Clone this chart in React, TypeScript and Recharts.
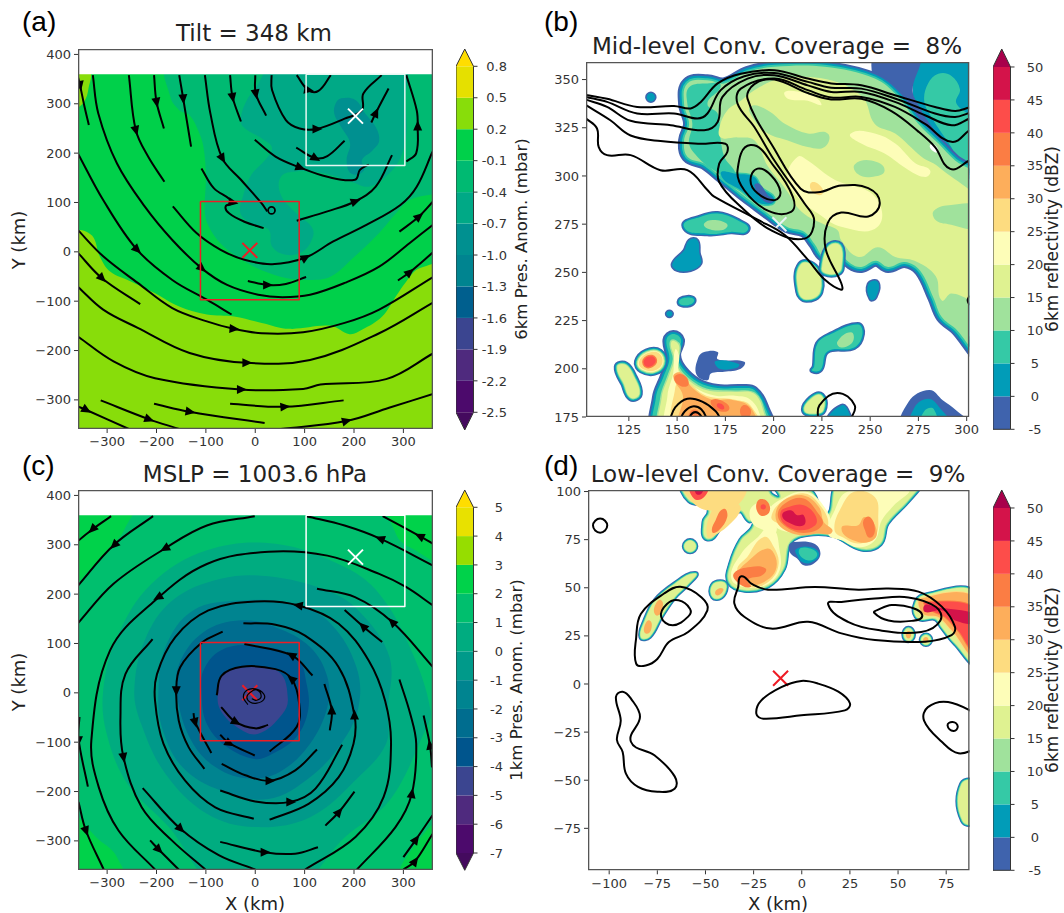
import React from 'react'
import { ScatterChart, Scatter, XAxis, YAxis } from 'recharts'

type P = [number, number]
type Arrow = [number, number, number]

const FONT = '"DejaVu Sans", sans-serif'

// colour levels
const presLevelsA = [-2.5, -2.2, -1.9, -1.6, -1.3, -1.0, -0.7, -0.4, -0.1, 0.2, 0.5, 0.8]
const presLevelsC = [-7, -6, -5, -4, -3, -2, -1, 0, 1, 2, 3, 4, 5]
const reflLevels = [-5, 0, 5, 10, 15, 20, 25, 30, 35, 40, 45, 50]
const presColors = ['#4c0a6c', '#4f2a7e', '#3b4590', '#00558d', '#006d8f', '#008490', '#009a8a', '#00ac80', '#00bf6e', '#00d24a', '#96dd00', '#e8e100']
const presColorsA = ['#4c0a6c', '#4f2a7e', '#3b4590', '#005f8e', '#008490', '#009090', '#00a986', '#00ba72', '#00d04a', '#88dd0a', '#e5e000']
const reflColors = ['#3f63ad', '#019cb8', '#35c9a6', '#a0e29c', '#dff291', '#fdfdb8', '#fddc80', '#fdae5b', '#fb7d44', '#fd4d4a', '#d4134a']
const [BLUE, CYAN, GREEN, LTGREEN, LIME, PALE, YEL, ORA, DORA, RED, CRIM] = reflColors

// axis ticks
const ticksXY = [-300, -200, -100, 0, 100, 200, 300]
const ticksYTop = [-300, -200, -100, 0, 100, 200, 300, 400]
const ticksBX = [125, 150, 175, 200, 225, 250, 275, 300]
const ticksBY = [175, 200, 225, 250, 275, 300, 325, 350]
const ticksDX = [-100, -75, -50, -25, 0, 25, 50, 75]
const ticksDY = [-75, -50, -25, 0, 25, 50, 75, 100]

// panel a, pressure anomaly regions (km)
const aLime: P[] = [[-400, 44], [-359, 44], [-343, 41], [-327, 28], [-315, -9], [-294, -40], [-252, -60], [-203, -84], [-154, -111], [-98, -127], [-43, -131], [13, -144], [69, -156], [153, -150], [191, -167], [216, -158], [257, -131], [285, -90], [306, -60], [334, -33], [400, -31], [420, -400], [-420, -400]]
const aLimeCorner: P[] = [[-380, 370], [-337, 370], [-338, 330], [-346, 305], [-360, 292], [-380, 290]]
const aTealGreen: P[] = [[-175, 380], [-172, 314], [-154, 287], [-133, 277], [-116, 247], [-105, 213], [-100, 152], [-102, 78], [-91, 45], [-64, 11], [-15, -23], [20, -40], [62, -53], [111, -57], [153, -50], [202, -9], [251, 38], [285, 78], [313, 105], [400, 142], [400, 400]]
const aTeal: P[] = [[34, 375], [3, 335], [-15, 311], [-29, 274], [-25, 254], [17, 227], [34, 210], [20, 186], [-8, 156], [-25, 112], [-30, 78], [-8, 58], [27, 45], [34, 11], [62, -6], [97, 1], [117, 31], [114, 51], [83, 78], [52, 115], [52, 152], [83, 163], [139, 159], [195, 142], [230, 132], [264, 152], [292, 186], [306, 240], [303, 308], [299, 375]]
const aDeep: P[] = [[163, 301], [174, 311], [202, 308], [223, 280], [244, 253], [251, 225], [237, 205], [216, 186], [220, 165], [195, 158], [185, 186], [192, 220], [174, 253], [160, 280]]
const noDataTop: P[] = [[-400, 360], [400, 360], [400, 430], [-400, 430]]

// panel a, streamlines (km)
const aStreams: P[][] = [
  [[-360, 358], [-355, 338], [-346, 295], [-337, 257]],
  [[-329, 358], [-318, 281], [-280, 179], [-224, 92], [-168, 24], [-109, -33], [-57, -67], [6, -87], [55, -92], [111, -87], [181, -63], [251, -30], [313, 18], [360, 55]],
  [[-360, 201], [-308, 105], [-240, 5], [-168, -57], [-98, -97], [-48, -127]],
  [[-256, 358], [-242, 247], [-217, 193], [-184, 142]],
  [[-205, 358], [-200, 304], [-185, 250]],
  [[-154, 358], [-146, 311], [-130, 213]],
  [[-102, 358], [-91, 281], [-67, 190], [-29, 146], [13, 98], [24, 82]],
  [[-51, 358], [-46, 314], [-29, 264]],
  [[0, 358], [1, 321], [22, 276]],
  [[33, 358], [34, 328], [62, 267], [90, 250], [124, 249], [181, 270], [216, 287], [219, 321], [256, 358]],
  [[84, 358], [107, 328], [128, 326], [153, 358]],
  [[270, 331], [244, 281], [235, 262]],
  [[306, 358], [327, 287], [329, 254], [326, 200], [306, 183]],
  [[-1, 227], [41, 193], [90, 171], [146, 152], [202, 146], [212, 166], [230, 177]],
  [[83, 211], [121, 190], [146, 194], [181, 225]],
  [[-109, 169], [-84, 129], [-46, 100], [-60, 92], [-53, 78], [-22, 61], [17, 48]],
  [[277, 196], [244, 132], [202, 102], [146, 82], [84, 63]],
  [[-167, 92], [-119, 38], [-70, 4], [-22, -16], [34, -25], [101, -12], [158, 21], [226, 55], [294, 95], [327, 132], [359, 203]],
  [[-360, -1], [-311, -53], [-233, -106]],
  [[-360, 45], [-308, -9], [-238, -63], [-168, -114], [-98, -141], [-44, -156], [13, -165], [97, -163], [181, -144], [251, -117], [360, -51]],
  [[-360, -70], [-308, -117], [-238, -154], [-133, -205], [-18, -225], [111, -219], [251, -165], [360, -103]],
  [[-360, -171], [-287, -222], [-203, -256], [-29, -279], [97, -278], [132, -269], [265, -258], [360, -206]],
  [[-360, -313], [-343, -320], [-256, -359]],
  [[-313, -301], [-216, -339], [-154, -359]],
  [[-205, -308], [-133, -324], [19, -347]],
  [[-51, -308], [59, -314], [179, -301]],
  [[52, -359], [184, -343], [271, -316], [360, -288]],
  [[292, 41], [331, 71], [360, 102]],
  [[289, -58], [312, -42], [360, -1]],
  [[-15, -59], [24, -67], [62, -65], [103, -51]],
]
const aEye: P[] = [[33, 91], [40, 84], [33, 77], [26, 84]]
const aArrows: Arrow[] = [[-355, 338, 80], [-242, 247, 75], [-200, 304, 80], [-146, 311, 85], [-46, 314, 80], [1, 321, 80], [-67, 190, 60], [107, 328, 10], [124, 249, 0], [244, 281, -65], [329, 254, -90], [90, 171, 20], [121, 190, 30], [-46, 100, 10], [202, 102, -20], [-240, 5, 45], [-109, -33, 40], [101, -12, -30], [24, -67, 0], [-311, -53, 45], [-44, -156, 5], [-18, -225, 0], [-29, -279, 0], [59, -314, -5], [-133, -324, 10], [-216, -339, 20], [-343, -320, 30], [184, -343, -15], [331, 71, -40], [312, -42, -40]]

// panel c, pressure anomaly regions (km)
const cCorners: P[][] = [
  [[-400, 400], [-248, 400], [-266, 329], [-294, 295], [-329, 255], [-400, 205]],
  [[272, 400], [285, 322], [313, 295], [400, 268], [400, 400]],
  [[-400, -240], [-315, -299], [-280, -333], [-266, -400], [-400, -400]],
  [[400, -260], [320, -313], [296, -400], [400, -400]],
]
const cRings: P[][] = [
  [[-308, 5], [-280, 113], [-210, 221], [-98, 289], [41, 302], [181, 255], [251, 201], [313, 93], [355, -36], [341, -83], [272, -218], [181, -293], [76, -400], [-70, -400], [-175, -272], [-259, -184], [-301, -83]],
  [[-245, 5], [-224, 106], [-168, 187], [-70, 231], [27, 236], [146, 207], [209, 167], [272, 72], [268, -36], [265, -103], [209, -171], [111, -252], [-1, -272], [-98, -245], [-182, -164], [-231, -63]],
  [[-196, 5], [-182, 93], [-126, 167], [-29, 187], [83, 180], [153, 140], [205, 52], [209, -29], [174, -103], [111, -171], [27, -215], [-70, -198], [-147, -151], [-189, -70]],
  [[-158, -9], [-154, 59], [-105, 123], [-29, 147], [41, 133], [111, 93], [146, 32], [146, -29], [111, -103], [55, -157], [-1, -174], [-70, -157], [-126, -103]],
  [[-109, -2], [-105, 45], [-70, 86], [-8, 96], [83, 72], [104, 18], [107, -36], [83, -90], [34, -124], [-1, -134], [-57, -110], [-98, -63]],
  [[-76, -2], [-64, 39], [-15, 52], [48, 42], [66, -12], [55, -43], [6, -83], [-36, -70], [-70, -36]],
]

// panel c, streamlines (km)
const cStreams: P[][] = [
  [[-360, 307], [-329, 332], [-292, 358]],
  [[-360, 216], [-287, 299], [-207, 358]],
  [[-360, 140], [-287, 221], [-182, 293], [-98, 339], [-1, 358]],
  [[-203, -358], [-277, -279], [-317, -191], [-332, -97], [-294, 86], [-203, 187], [-98, 261], [27, 286], [146, 278], [251, 241], [306, 214], [360, 177]],
  [[-208, 109], [-263, 38], [-273, -49], [-267, -130], [-230, -232], [-169, -299], [-101, -358]],
  [[-228, -193], [-152, -275], [-74, -329], [0, -358]],
  [[-213, -299], [-196, -317], [-155, -358]],
  [[-356, -49], [-358, -93], [-339, -190]],
  [[-358, -221], [-343, -279], [-307, -358]],
  [[-66, 124], [-108, 102], [-152, 52], [-160, 5], [-155, -56], [-135, -110], [-103, -154]],
  [[-3, -255], [-81, -232], [-142, -178], [-186, -103], [-203, -16], [-199, 38], [-162, 113], [-95, 167], [0, 185], [88, 177], [169, 140], [230, 65], [263, -16], [275, -103], [260, -211], [203, -292], [101, -358]],
  [[-24, 141], [41, 138], [101, 116], [169, 52], [201, -46], [199, -103], [169, -171], [108, -225], [29, -257]],
  [[-71, -198], [0, -220], [71, -221], [122, -194], [176, -105]],
  [[-68, -144], [-20, -167], [29, -178], [81, -157], [125, -115]],
  [[-22, 99], [74, 76], [116, 35]],
  [[140, 18], [155, -36], [151, -76]],
  [[292, 27], [314, -43], [326, -103], [317, -205], [284, -272], [206, -358]],
  [[341, -46], [354, -107], [358, -151]],
  [[142, -269], [169, -242], [201, -200]],
  [[300, -333], [325, -298], [359, -248]],
  [[300, -358], [323, -342], [359, -286]],
  [[-71, -302], [19, -323], [81, -326], [127, -313]],
  [[181, 168], [219, 134], [257, 103]],
  [[104, 358], [181, 339], [254, 312], [360, 258]],
  [[125, 211], [202, 194], [278, 143], [360, 52]],
  [[258, 358], [334, 317], [360, 302]],
  [[-78, -5], [-68, 35], [-27, 53], [41, 48], [74, 28], [89, -22], [84, -69], [29, -119]],
  [[-125, -41], [-122, -59], [-89, -122]],
  [[-71, -85], [-53, -102], [-1, -127]],
  [[-69, -29], [-40, -59], [0, -72], [26, -65]],
  [[-15, -24], [-24, -9], [-17, 5], [0, 8], [17, -2], [17, -14], [3, -21], [-10, -19], [-17, -9], [-10, 1], [3, 6], [12, -7], [3, -15], [-7, -12]],
]
const cArrows: Arrow[] = [[-329, 332, 135], [-285, 300, 135], [-182, 293, 150], [-196, 194, 150], [88, 177, 190], [254, 312, 200], [334, 317, 205], [278, 143, 225], [219, 134, 225], [-160, 5, 90], [74, 76, 210], [74, 28, 220], [-122, -59, 75], [-53, -102, 30], [-40, -59, 30], [29, -178, 0], [71, -221, 0], [19, -323, 0], [-152, -275, 45], [-196, -317, 45], [-343, -279, 70], [-267, -130, 80], [-358, -96, 90], [155, -36, -90], [201, -46, -90], [169, -242, -50], [317, -205, -80], [354, -107, -100], [325, -298, -55], [323, -342, -55]]

// storm boxes and centres
const whiteBox: P[] = [[103, 360], [103, 175], [303, 175], [303, 360], [103, 360]]
const redBox: P[] = [[-111, 102], [89, 102], [89, -97], [-111, -97], [-111, 102]]
const redCentreA: P[] = [[-11, 3]]
const redCentreC: P[] = [[-11, 0]]
const whiteCentre: P[] = [[203, 275]]

// panel b, reflectivity regions (km)
const bBlue: P[] = [[254, 366], [275, 366], [272, 344], [276.6, 334], [286, 312], [261, 332], [252.4, 346]]
const bCyan: P[] = [[275, 366], [310, 366], [310, 296], [292, 309], [286, 318], [275, 334], [272, 344.5]]
const bUpperGreen: P[] = [[280, 348], [285.3, 353], [292, 352], [296.5, 345], [294.7, 337.6], [306, 327], [306, 308], [297, 306.4], [292, 315], [281.7, 330.6], [278, 339]]
const bHole: P[] = [[281, 316], [283.6, 316], [285, 312.5], [282, 313.4]]
const bMain: P[] = [[155.3, 348], [165.7, 349.7], [174.4, 348], [186.5, 354], [200.4, 356.6], [226.4, 356.6], [252.4, 350.5], [264.5, 341], [275, 327], [285.4, 316.8], [294, 308], [310, 296], [310, 206], [294, 221], [287, 227], [282.7, 237], [275.8, 251], [268, 255.4], [259.3, 252.8], [253, 256], [245.4, 252.8], [240, 254.5], [235, 259.7], [231.6, 266.7], [229, 262], [226.4, 258], [221, 265], [216, 271], [207, 273.5], [197, 280.5], [190, 285.7], [183, 291], [172.6, 299.5], [164, 306.4], [155.3, 310], [153.6, 318.5], [156.2, 327], [153.6, 337.5]]
const bLeftGreen: P[] = [[156.2, 346], [165.7, 348], [172.6, 347], [165.7, 337.5], [171, 332.4], [172.6, 318.5], [174.4, 310], [179.6, 299.5], [169, 303], [160.5, 310], [156.2, 316.8], [157.9, 327], [155.3, 337.5]]
const bLime: P[] = [[176, 334], [183, 339], [190, 344.5], [204, 350.5], [228, 350], [246, 341], [252.4, 327], [263, 322], [276.6, 310], [285, 305], [310, 281], [310, 236], [292, 239], [287, 235.5], [284, 248], [273, 256], [263, 258], [254, 263], [244, 258], [235, 266.7], [233, 272], [226, 275], [217.7, 279], [212, 284], [209, 289], [205.6, 294], [197, 305], [190, 318.5], [181.3, 320], [172.6, 320], [172, 325.5]]
const bLtPatches: P[][] = [
  [[188, 336], [197, 334], [206, 327], [217.7, 322], [228, 322], [226.4, 315], [217.7, 315], [207, 318.5], [197, 322], [190, 329]],
  [[242, 306], [250.6, 308], [257.5, 303], [250.6, 299.5], [243.6, 301]],
  [[283, 282], [292, 285], [306, 284], [306, 273.6], [290.5, 275], [284, 277]],
]
const bPale: P[][] = [
  [[205.6, 342], [216, 343], [224.7, 337.5], [217.7, 339]],
  [[240, 322], [252.4, 322], [263, 316.8], [273.6, 306.4], [281, 303], [278.7, 299.5], [270, 303], [257.5, 311.6], [245.4, 316.8]],
  [[212.5, 310], [217.7, 308], [231.6, 298], [252.4, 289.4], [253.9, 273.6], [235, 273.6], [223, 280.5], [212.5, 289], [207, 299.5]],
]
const bOrangeSpot: P[] = [[219, 296], [223, 296], [225.5, 291], [221, 291]]
const bCoreCyan: P[] = [[172.6, 301], [181.3, 301], [190, 299.5], [193.4, 294], [200.4, 287.4], [193.4, 285.7], [183, 292.6]]
const bCoreBlue: P[] = [[190, 295], [192.6, 296], [197, 290], [200, 287], [195, 287]]

// small cells of panel b
const bCellsGreen: P[][] = [
  [[153.6, 273.6], [162.3, 278.8], [171, 280.5], [181.3, 277], [186.6, 272], [177.8, 271], [165.7, 270]],
  [[151, 234.7], [155.3, 237], [158.8, 235.5], [155.3, 233]],
  [[221, 201], [222.7, 213], [229.7, 218], [243.6, 223], [246, 218], [241.7, 211], [227.8, 209], [224.4, 199.6], [220, 199]],
]
const bCellsLt: P[][] = [
  [[164, 275.3], [171, 277], [176, 273.6], [168, 272]],
  [[233, 214], [240, 219], [241, 214], [235, 211]],
]
const bDots: P[][] = [
  [[136.4, 343], [138.6, 340.8], [136.4, 338.6], [134.2, 340.8]],
  [[146, 230], [147.6, 228.5], [146, 227], [144.4, 228.5]],
  [[147.5, 254.5], [153.6, 261.4], [156.2, 266.7], [160.5, 266.7], [161.5, 260], [162.3, 254.5], [157, 251], [150, 251]],
  [[228, 170], [235, 181], [240, 175], [240, 170]],
  [[249, 244], [254, 245], [253, 237], [250, 236]],
]
const bFingers: P[][] = [
  [[214, 254], [222, 252], [224, 240], [217, 236], [213, 240]],
  [[225, 252], [232, 265], [235, 252], [230, 249]],
  [[216, 178.5], [219.5, 184.5], [224.7, 186], [225.6, 178.5], [221, 176.8]],
  [[119, 201], [123.4, 202], [127.7, 195.7], [130.4, 187], [126, 185], [122.5, 192]],
]
const bSouthBlue: P[] = [[267, 168], [270, 183], [280.6, 189], [287.6, 183.7], [294.5, 178.5], [304, 168]]
const bSouthCyan: P[] = [[271.5, 168], [273, 180], [280, 184.5], [285.5, 180.5], [292, 168]]
const bSouthGreen: P[] = [[276, 168], [278, 178], [283, 179], [284, 168]]
const bStrip: P[] = [[164, 208.7], [171, 208.7], [171, 205], [184.8, 203.6], [183, 200], [174.4, 198.4], [167.5, 197.5], [165.7, 194], [160, 197], [161, 206]]
const bStripCyan: P[] = [[170, 204], [182, 202.5], [181, 200.5], [172, 200]]
const bHotGreen: P[] = [[140, 168], [139, 185], [143, 196], [146, 205], [144.5, 215], [148, 218], [152, 215], [150, 207], [153, 200], [161, 193], [171, 190], [183, 190], [190, 189], [196, 179], [198, 168]]
const bHotLime: P[] = [[143, 168], [142, 185], [146, 197], [148.5, 205], [147, 214], [151, 212], [150, 202], [155, 195], [165, 189], [180, 188], [190, 187], [195, 177], [196, 168]]
const bHotPale: P[] = [[146, 168], [145, 186], [148, 198], [149, 210], [151, 207], [151, 198], [158, 191], [170, 186], [180, 186], [188, 184], [193, 176], [193, 168]]
const bHotYel: P[] = [[150, 168], [149, 190], [153, 194], [165, 186], [180, 184], [188, 181], [192, 168]]
const bHotOra: P[] = [[152, 168], [153, 186], [148, 196], [152, 198], [158, 190], [168, 184], [178, 184], [188, 180], [190, 168]]
const bHotRed: P[][] = [
  [[148.5, 195.5], [153, 197], [156, 192], [152, 191]],
  [[168, 184], [174, 183], [177, 179], [172, 178], [168, 181]],
  [[184, 181], [188, 179], [187, 175], [183, 176]],
  [[155, 168], [157, 178], [161, 178], [163, 168]],
]
const bHotCrim: P[] = [[171, 182], [174, 181], [174, 179], [171, 180]]
const bNorthCell: P[] = [[130.2, 203.5], [134.5, 208], [140.6, 208], [142.3, 202.7], [138, 199], [132, 200]]
const bNorthCore: P[] = [[132.8, 204.4], [137, 206.5], [138.8, 203.5], [134.5, 201]]

// panel b, contour lines (km)
const bLines: P[][] = [
  [[102.8, 342], [113.7, 340], [129.3, 335.8], [148.4, 336.3], [157, 335], [162.3, 338.4], [171, 348], [183, 353], [200.4, 354.8], [217.7, 350.5], [229.8, 348], [245.4, 347], [262.8, 341.9], [283.6, 335.8], [294, 333.7], [301.4, 335.5]],
  [[102.8, 341], [113.7, 338.4], [129.3, 332.4], [148.4, 332.4], [160.5, 329.8], [165.7, 332.4], [172.6, 344.5], [184.8, 351.7], [200.4, 353.4], [217.7, 348.8], [229.8, 345.8], [245.4, 345.3], [262.8, 340.2], [283.6, 332.4], [294, 330.6], [301.4, 332.7]],
  [[102.8, 339.6], [113.7, 335.8], [125.9, 328.6], [146.7, 326.3], [164, 323.7], [171, 328], [173.5, 341], [186.5, 350.5], [200.4, 352.2], [217.7, 347], [229.8, 343.6], [245.4, 343.6], [262.8, 338.4], [278.4, 331.5], [292.3, 326.3], [301.4, 329.8]],
  [[102.8, 336.7], [115.4, 328.9], [125.9, 321], [141.4, 318.1], [162.3, 316.7], [175, 316.7], [176, 312.4], [171.8, 306.4], [171.8, 296.9], [183, 284], [198.6, 271.9], [216, 267.5], [221, 277], [216, 285.7], [200.4, 308], [190, 325.4], [181.3, 337.5], [183, 345.3], [200.4, 350.5], [217.7, 344.5], [229.8, 340.7], [245.4, 341], [262.8, 335.8], [278.4, 327], [292.2, 317.7], [301.4, 323.7]],
  [[102.8, 329.8], [108.5, 324.6], [109.4, 315], [113.7, 310.8], [125.9, 310.8], [141.4, 303], [155.3, 303], [165.7, 292.7], [169, 289.4], [191.7, 277.3], [205.6, 269.5], [217.7, 256.6], [226.4, 246.3], [235, 241], [235, 244.5], [227, 262], [228, 275.6], [235, 281], [249, 279], [255, 286], [249, 293.7], [235, 295], [223, 291.5], [214, 293.4], [200.4, 314], [186.5, 340], [190, 347.6], [200.4, 350], [217.7, 343], [229.8, 339.7], [245.4, 340], [261, 333.6], [275, 323], [283.6, 315], [291.5, 303.7], [301.4, 308]],
  [[146, 173], [149, 180], [155.3, 184.5], [163, 183], [170, 178], [173, 173]],
  [[151, 173], [154, 178], [158, 180.5], [162.5, 179], [166, 173]],
  [[155.5, 173], [158, 177], [161, 177], [164, 173]],
  [[223, 173], [223.7, 181], [233, 187.5], [242, 181], [239.5, 173]],
  [[301.5, 238], [300.5, 235.5], [301.5, 233]],
]
const bLoops: P[][] = [
  [[188, 316], [181.3, 303], [184.8, 292.6], [197, 282], [209, 281.4], [210, 289], [200.4, 304.7]],
  [[191.7, 303.8], [188, 297.8], [191.7, 291], [200.4, 287.4], [203.5, 291.7], [198.6, 300.4]],
]

// panel d, reflectivity regions (km)
const dMain: P[] = [[-61, 104], [-58.3, 95.5], [-48.8, 92.9], [-48, 88.6], [-50.5, 84.2], [-48.8, 75.6], [-41.8, 82.5], [-32.3, 90.3], [-27, 85], [-24.5, 86.8], [-25.4, 80.8], [-31.4, 74.7], [-36.6, 62.6], [-37.5, 53], [-29.7, 49], [-17.5, 51.3], [-9.7, 60], [-6.3, 73.8], [3.3, 78], [17, 77.3], [31, 70.4], [40.6, 73], [44, 83.4], [53.6, 93.8], [59.7, 100.7], [62.3, 104], [20, 104], [12.4, 86.8], [4.6, 99.8], [-13.6, 104], [-11, 97], [-16, 98], [-20, 104]]
const dPaleLobes: P[][] = [
  [[-36.6, 54.8], [-31.4, 67.8], [-22.7, 76.4], [-15.8, 81.6], [-11.5, 69.5], [-11.5, 59], [-17.5, 52], [-28, 50]],
  [[13.7, 78], [17, 90], [24, 100], [55, 101], [48, 93], [41.5, 85], [38, 74.7], [29.3, 71], [20.6, 74.7]],
  [[-26, 92], [-18, 94], [-14, 86], [-14, 78], [-20, 80], [-26, 84]],
  [[-17, 90], [-10.6, 96], [2, 100], [11, 93], [15, 82], [8, 78.5], [-4, 78.5], [-14, 82]],
]
const dYelLobes: P[][] = [
  [[-33.5, 59], [-28.3, 66], [-19.7, 76.4], [-14.5, 71.2], [-12, 62.6], [-16.2, 54], [-26.6, 50.4]],
  [[17, 80], [20.6, 92], [27.6, 100], [38, 97], [39.7, 87], [38, 76.4], [29.3, 73], [22.4, 75.6]],
  [[-49, 76.4], [-47.4, 88.6], [-42.2, 93.8], [-33.5, 93.8], [-31.8, 90.3], [-37, 83.4], [-43.9, 78]],
  [[-61.2, 104], [-30, 104], [-33.5, 92.9], [-49, 90.3], [-57.7, 95.5]],
  [[-15.8, 86.8], [-10.6, 94.6], [1.5, 99], [10.2, 92], [13.7, 82.5], [8.5, 80], [-3.6, 80], [-12.3, 83.4]],
]
const dOraLobes: P[][] = [
  [[-33.5, 57.4], [-28.3, 63.4], [-18, 70.4], [-13.6, 66], [-13.6, 59], [-18, 54], [-24.9, 51.3], [-31.8, 54]],
  [[20.6, 80.8], [29.3, 82.5], [32.8, 86.8], [38, 82.5], [38, 75.6], [29.3, 73.8]],
  [[-13.6, 88.6], [-9.3, 95.5], [1, 98], [8.9, 92], [11.4, 84.2], [15.8, 79], [8, 78.2], [-0.7, 77.3], [-11, 81.6]],
]
const dDoraLobes: P[][] = [
  [[-35.3, 57.4], [-26.6, 60.8], [-18.8, 60], [-20.6, 56.5], [-28.3, 54], [-26.6, 50.4], [-32.7, 52.2]],
  [[32, 85], [35.4, 86.8], [38, 80], [35.4, 76], [32.8, 80]],
  [[-12.4, 88.6], [-7.6, 94.6], [1, 96.4], [8, 89.4], [10.6, 82.5], [1, 78.5], [-9.3, 82.5]],
  [[-46.5, 79], [-44.8, 85], [-40.5, 91], [-38.7, 86.8], [-43, 79.9]],
  [[-23, 95], [-18, 95], [-17, 89], [-22, 88]],
]
const dRedLobes: P[][] = [
  [[-11, 89.4], [-6.7, 92], [1, 92.9], [7, 87.7], [7, 82.5], [-1.5, 79.9], [-9.3, 83.4]],
  [[-57.7, 104], [-49, 104], [-50.8, 97], [-56, 96.4]],
  [[-21, 93], [-19, 93], [-19, 91], [-21, 91]],
]
const dCrimLobes: P[][] = [
  [[-10.2, 87.7], [-5.8, 90.3], [-2.4, 87.7], [1, 87.7], [1, 82.5], [-5.8, 83.4]],
  [[-55, 104], [-51, 104], [-52, 99], [-55, 99]],
]
const dCellBlue: P[] = [[-6.7, 72], [-4.1, 73.8], [6.3, 73], [9.7, 67.8], [6.3, 62.6], [1, 61.7], [-2.4, 65.2], [-5.8, 67.8]]
const dCellCyan: P[] = [[-3, 70], [5, 71], [9, 67], [4, 62.8], [0, 63.5], [-2, 66]]
const dCellGreen: P[] = [[-1.5, 69.5], [4.5, 70.4], [8, 66.9], [2.8, 64.3]]
const dSmallLime: P[][] = [
  [[-58, 74.5], [-55, 71.6], [-58, 68.7], [-61, 71.6]],
  [[-46.4, 51.3], [-41, 53], [-39.2, 50.4], [-41.8, 45.2], [-46.2, 45.2]],
  [[-83.5, 24.4], [-81.4, 33], [-76, 43.5], [-66, 52], [-55.4, 57.4], [-59, 52], [-66, 45.2], [-73, 35], [-79, 24.7]],
  [[55.4, 29], [58, 25.6], [55.4, 22.5], [53, 25.6]],
  [[64.5, 25.5], [67, 23], [64.5, 20.5], [62, 23]],
  [[83, -52], [92, -52], [92, -71], [83.5, -71]],
]
const dSmallOra: P[][] = [
  [[-44.5, 48.7], [-41, 49.6], [-41.8, 47], [-44.5, 46.2]],
  [[-76.5, 40], [-73, 43.5], [-73, 37.4], [-75.7, 35.7]],
  [[-81.8, 29.6], [-79, 33], [-78.3, 27.9], [-81, 26.2]],
  [[55.4, 27.5], [56.8, 25.6], [55.4, 23.6], [54, 25.6]],
  [[64.5, 24.4], [65.8, 23], [64.5, 21.6], [63, 23]],
]
const dEastOuter: P[] = [[58.5, 40], [63.2, 46], [92, 46], [92, 11], [79.7, 21], [72.7, 29.6], [69.3, 34], [60.6, 34]]
const dEastOra: P[] = [[62, 44.4], [92, 43.5], [92, 15], [77.8, 28], [71, 34.8], [63, 36.6]]
const dEastRed: P[] = [[64, 42.6], [92, 38], [92, 17], [81, 28], [74.5, 34.8], [67.5, 38.3]]
const dEastCrim: P[] = [[64, 41], [69.3, 40], [92, 36], [92, 31.4], [79.7, 33], [72.7, 38.3], [64, 37.4]]

// panel d, contour lines (km)
const dLoops: P[][] = [
  [[-104.7, 86], [-101, 82.3], [-104.7, 78.6], [-108.4, 82.3]],
  [[-86, 10.6], [-81, 9.6], [-75, 13], [-69, 21.8], [-59, 27], [-49, 38.3], [-52, 45], [-63, 50.5], [-71.5, 47], [-83.5, 36.5], [-86, 24]],
  [[-73, 35], [-67, 30.5], [-59, 35], [-58, 39], [-64, 43.5], [-70, 41.6]],
  [[-31.4, 56], [-33, 50.4], [-35, 41.8], [-29.7, 34.8], [-16, 28.8], [3.3, 32.3], [20.6, 26.3], [38, 22.8], [64, 22], [77.8, 25.4], [79.5, 29.8], [72.7, 40.2], [60.6, 48], [45, 49.6], [29.4, 49], [6.8, 50.4], [-17.5, 49], [-26, 52]],
  [[13.7, 41.4], [24, 32.3], [39.7, 28], [62, 27], [72, 33], [69.7, 40], [55.4, 45], [38, 44.4], [20.6, 42.6]],
  [[37.6, 37], [45, 33], [57, 32.8], [62.6, 35.4], [57, 39.7], [46.7, 41], [39.7, 38.6]],
  [[-23.6, -15.4], [-20, -18], [-0.2, -16.3], [22.4, -13.7], [25, -10], [19, -4], [8.5, 0.2], [-0.2, 1.6], [-10.6, -1.6], [-21, -8.5]],
  [[-96.5, -6.7], [-93, -4], [-88.7, -7.6], [-84, -17], [-88.7, -30], [-76.5, -37], [-66, -48], [-66, -54.4], [-75, -56], [-85, -53.5], [-91.3, -46.6], [-93, -35.3], [-96, -29], [-94, -19]],
  [[75.7, -21.5], [78.8, -24.4], [81, -22], [78.3, -19.7]],
]
const dLines: P[][] = [
  [[92, -16], [76, -9.4], [65.5, -12], [63.5, -19], [72.7, -30], [81.4, -36], [92, -33]],
]
const dCentre: P[] = [[-11, 3]]

const toData = (pts: P[]) => pts.map(([x, y]) => ({ x, y }))
const NoDot = () => <g />
const fmtTick = (v: number) => String(v).replace('-', '\u2212')
const tickStyle = { fontSize: 13, fill: '#333', fontFamily: FONT }

// d3-style curve factory: smooth spline through the points, handles scaled to the segment length
const spline = (closed: boolean) => (ctx: any) => {
  let pts: P[] = []
  const handle = 0.36
  const unit = (a: P, b: P): P => {
    const dx = b[0] - a[0]
    const dy = b[1] - a[1]
    const len = Math.hypot(dx, dy) || 1
    return [dx / len, dy / len]
  }
  return {
    areaStart() {},
    areaEnd() {},
    lineStart() {
      pts = []
    },
    point(x: number, y: number) {
      pts.push([+x, +y])
    },
    lineEnd() {
      const n = pts.length
      if (!n) return
      const at = (i: number) => (closed ? pts[(i + n) % n] : pts[Math.max(0, Math.min(n - 1, i))])
      ctx.moveTo(pts[0][0], pts[0][1])
      const segs = closed ? n : n - 1
      for (let i = 0; i < segs; i++) {
        const [p0, p1, p2, p3] = [at(i - 1), at(i), at(i + 1), at(i + 2)]
        const len = Math.hypot(p2[0] - p1[0], p2[1] - p1[1]) * handle
        const t1 = unit(p0, p2)
        const t2 = unit(p1, p3)
        ctx.bezierCurveTo(p1[0] + t1[0] * len, p1[1] + t1[1] * len, p2[0] - t2[0] * len, p2[1] - t2[1] * len, p2[0], p2[1])
      }
      if (closed) ctx.closePath()
    },
  }
}
const closedSpline = spline(true)
const openSpline = spline(false)

function ArrowHead(props: any) {
  const { cx, cy, payload } = props
  return <polygon points={`${cx + 6},${cy} ${cx - 4},${cy - 4.5} ${cx - 4},${cy + 4.5}`} fill="#000" transform={`rotate(${payload.angle} ${cx} ${cy})`} />
}

const crossShape = (color: string, half: number) => (props: any) => {
  const { cx, cy } = props
  return <path d={`M${cx - half},${cy - half}L${cx + half},${cy + half}M${cx - half},${cy + half}L${cx + half},${cy - half}`} stroke={color} strokeWidth={2} fill="none" />
}

function area(key: string, pts: P[], fill: string, bands: [string, number][] = [], joint: any = closedSpline) {
  const data = toData(pts)
  return [
    ...bands.map(([c, w], i) => (
      <Scatter key={`${key}-${i}`} data={data} shape={NoDot} lineType="joint" lineJointType={joint} isAnimationActive={false}
        line={{ stroke: c, strokeWidth: w, fill: c, strokeLinejoin: 'round' } as any} />
    )),
    <Scatter key={key} data={data} shape={NoDot} lineType="joint" lineJointType={joint} isAnimationActive={false}
      line={{ stroke: 'none', fill } as any} />,
  ]
}

function curve(key: string, pts: P[], color = '#000', width = 2, joint: any = openSpline) {
  return (
    <Scatter key={key} data={toData(pts)} shape={NoDot} lineType="joint" lineJointType={joint} isAnimationActive={false}
      line={{ stroke: color, strokeWidth: width, fill: 'none', strokeLinejoin: 'round' } as any} />
  )
}

const arrowSeries = (key: string, arrows: Arrow[]) => (
  <Scatter key={key} data={arrows.map(([x, y, angle]) => ({ x, y, angle }))} shape={ArrowHead} isAnimationActive={false} />
)
const crossSeries = (key: string, pts: P[], color: string, half = 7.5) => (
  <Scatter key={key} data={toData(pts)} shape={crossShape(color, half)} isAnimationActive={false} />
)

interface PanelProps {
  left: number
  top: number
  width: number
  height: number
  xDomain: [number, number]
  yDomain: [number, number]
  xTicks: number[]
  yTicks: number[]
  children: React.ReactNode
}

function Panel({ left, top, width, height, xDomain, yDomain, xTicks, yTicks, children }: PanelProps) {
  const frame: P[] = [[xDomain[0], yDomain[0]], [xDomain[1], yDomain[0]], [xDomain[1], yDomain[1]], [xDomain[0], yDomain[1]], [xDomain[0], yDomain[0]]]
  return (
    <div style={{ position: 'absolute', left: left - 60, top: top - 8 }}>
      <ScatterChart width={width + 80} height={height + 38} margin={{ top: 8, right: 20, left: 0, bottom: 0 }}>
        <XAxis type="number" dataKey="x" domain={xDomain} ticks={xTicks} allowDataOverflow interval={0} height={30}
          tick={tickStyle} tickLine={{ stroke: '#333' }} axisLine={false} tickSize={4} tickMargin={4} tickFormatter={fmtTick} />
        <YAxis type="number" dataKey="y" domain={yDomain} ticks={yTicks} allowDataOverflow interval={0} width={60}
          tick={tickStyle} tickLine={{ stroke: '#333' }} axisLine={false} tickSize={4} tickMargin={3} tickFormatter={fmtTick} />
        {children}
        {curve('frame', frame, '#555', 2.6, 'linear')}
      </ScatterChart>
    </div>
  )
}

interface ColorbarProps {
  left: number
  top: number
  height: number
  domain: [number, number]
  levels: number[]
  colors: string[]
  topTip: string
  bottomTip?: string
  labelDx: number
  anchor: 'end' | 'middle'
  decimals: number
}

function Colorbar({ left, top, height, domain, levels, colors, topTip, bottomTip, labelDx, anchor, decimals }: ColorbarProps) {
  const lo = levels[0]
  const hi = levels[levels.length - 1]
  const outline: P[] = [[0, lo], ...(bottomTip ? ([[0.5, domain[0]], [1, lo]] as P[]) : ([[1, lo]] as P[])), [1, hi], [0.5, domain[1]], [0, hi], [0, lo]]
  const tick = (p: any) => (
    <text x={p.x + labelDx} y={p.y} dy="0.36em" textAnchor={anchor} fontSize={13} fill="#333" fontFamily={FONT}>
      {p.payload.value.toFixed(decimals)}
    </text>
  )
  return (
    <div style={{ position: 'absolute', left, top: top - 12 }}>
      <ScatterChart width={70} height={height + 24} margin={{ top: 12, right: 0, left: 0, bottom: 12 }}>
        <XAxis type="number" dataKey="x" domain={[0, 1]} hide />
        <YAxis type="number" dataKey="y" orientation="right" domain={domain} ticks={levels} interval={0} width={52.5}
          tick={tick} tickLine={{ stroke: '#333' }} axisLine={false} tickSize={4} tickMargin={2} />
        {colors.map((c, i) => area(`band${i}`, [[0, levels[i]], [1, levels[i]], [1, levels[i + 1]], [0, levels[i + 1]]], c, [], 'linear'))}
        {area('tipTop', [[0, hi], [1, hi], [0.5, domain[1]]], topTip, [], 'linear')}
        {bottomTip ? area('tipBottom', [[0, lo], [1, lo], [0.5, domain[0]]], bottomTip, [], 'linear') : null}
        {curve('outline', outline, '#333', 1, 'linear')}
      </ScatterChart>
    </div>
  )
}

const THIN: [string, number][] = [[BLUE, 5], [CYAN, 3.6], [GREEN, 2.4], [LTGREEN, 1.2]]

export default function App() {
  const aPanel = { left: 78, width: 355, height: 380, xDomain: [-359, 360] as [number, number], yDomain: [-359, 411] as [number, number], xTicks: ticksXY, yTicks: ticksYTop }
  return (
    <div style={{ position: 'absolute', left: 0, top: 0, width: 1064, height: 913, background: '#fff', overflow: 'hidden' }}>
      <Panel {...aPanel} top={49}>
        {area('base', [[-400, -400], [400, -400], [400, 430], [-400, 430]], presColorsA[8], [], 'linear')}
        {area('lime', aLime, presColorsA[9])}
        {area('limeC', aLimeCorner, presColorsA[9])}
        {area('tg', aTealGreen, presColorsA[7])}
        {area('teal', aTeal, presColorsA[6])}
        {area('deep', aDeep, presColorsA[5])}
        {area('mask', noDataTop, '#fff', [], 'linear')}
        {aStreams.map((s, i) => curve(`s${i}`, s))}
        {curve('eye', aEye, '#000', 1.8, closedSpline)}
        {arrowSeries('arrows', aArrows)}
        {curve('wb', whiteBox, '#e6f7f2', 1.5, 'linear')}
        {curve('rb', redBox, '#ee1c25', 1.5, 'linear')}
        {crossSeries('rx', redCentreA, '#ee1c25')}
        {crossSeries('wx', whiteCentre, '#fff')}
      </Panel>

      <Panel {...aPanel} top={489.7}>
        {area('base', [[-400, -400], [400, -400], [400, 430], [-400, 430]], presColors[8], [], 'linear')}
        {cCorners.map((c, i) => area(`corner${i}`, c, presColors[9]))}
        {cRings.map((r, i) => area(`ring${i}`, r, presColors[7 - i]))}
        {area('mask', noDataTop, '#fff', [], 'linear')}
        {crossSeries('rx', redCentreC, '#ee1c25')}
        {cStreams.map((s, i) => curve(`s${i}`, s, '#000', i === cStreams.length - 1 ? 1.2 : 2))}
        {arrowSeries('arrows', cArrows)}
        {curve('wb', whiteBox, '#fff', 1.5, 'linear')}
        {curve('rb', redBox, '#ee1c25', 1.5, 'linear')}
        {crossSeries('wx', whiteCentre, '#fff')}
      </Panel>

      <Panel left={585.8} top={61.7} width={383.2} height={355} xDomain={[102.8, 301.3]} yDomain={[175, 359.1]} xTicks={ticksBX} yTicks={ticksBY}>
        {area('cyanU', bCyan, CYAN)}
        {area('blueU', bBlue, BLUE)}
        {area('greenU', bUpperGreen, GREEN, [[CYAN, 1]])}
        {area('main', bMain, LTGREEN, [[BLUE, 12], [CYAN, 8], [GREEN, 4]])}
        {area('hole', bHole, '#fff')}
        {area('leftG', bLeftGreen, GREEN)}
        {area('lime', bLime, LIME)}
        {bLtPatches.map((p, i) => area(`lt${i}`, p, LTGREEN))}
        {bPale.map((p, i) => area(`pale${i}`, p, PALE))}
        {area('orSpot', bOrangeSpot, YEL)}
        {area('coreC', bCoreCyan, CYAN, [[GREEN, 3]])}
        {area('coreB', bCoreBlue, BLUE)}
        {bCellsGreen.map((p, i) => area(`cg${i}`, p, GREEN, [[BLUE, 5], [CYAN, 2.5]]))}
        {bCellsLt.map((p, i) => area(`cl${i}`, p, LTGREEN))}
        {bDots.map((p, i) => area(`dot${i}`, p, CYAN, [[BLUE, 3]]))}
        {bFingers.map((p, i) => area(`fg${i}`, p, LIME, [[BLUE, 7], [CYAN, 5], [GREEN, 3], [LTGREEN, 1.5]]))}
        {area('sb', bSouthBlue, BLUE)}
        {area('sc', bSouthCyan, CYAN)}
        {area('sg', bSouthGreen, GREEN)}
        {area('strip', bStrip, BLUE)}
        {area('stripC', bStripCyan, CYAN)}
        {area('hotG', bHotGreen, GREEN, [[BLUE, 8], [CYAN, 4]])}
        {area('hotL', bHotLime, LIME, [[LTGREEN, 3]])}
        {area('hotP', bHotPale, PALE)}
        {area('hotY', bHotYel, YEL)}
        {area('hotO', bHotOra, ORA)}
        {bHotRed.map((p, i) => area(`hr${i}`, p, DORA))}
        {area('hotC', bHotCrim, RED)}
        {area('nc', bNorthCell, YEL, [[BLUE, 10], [CYAN, 8], [GREEN, 6], [LTGREEN, 4.5], [LIME, 3], [PALE, 1.5]])}
        {area('ncc', bNorthCore, RED, [[DORA, 3]])}
        {crossSeries('wx', whiteCentre, '#e8f4f4', 7)}
        {bLines.map((s, i) => curve(`l${i}`, s))}
        {bLoops.map((s, i) => curve(`lo${i}`, s, '#000', 2, closedSpline))}
      </Panel>

      <Panel left={587.5} top={489.7} width={381.5} height={380.3} xDomain={[-111, 87.1]} yDomain={[-96.8, 100.8]} xTicks={ticksDX} yTicks={ticksDY}>
        {area('main', dMain, LIME, [[BLUE, 6], [CYAN, 5], [GREEN, 3.6], [LTGREEN, 2]])}
        {dPaleLobes.map((p, i) => area(`p${i}`, p, PALE))}
        {dYelLobes.map((p, i) => area(`y${i}`, p, YEL))}
        {dOraLobes.map((p, i) => area(`o${i}`, p, ORA))}
        {dDoraLobes.map((p, i) => area(`d${i}`, p, DORA))}
        {dRedLobes.map((p, i) => area(`r${i}`, p, RED))}
        {dCrimLobes.map((p, i) => area(`c${i}`, p, CRIM))}
        {area('cb', dCellBlue, BLUE)}
        {area('cc', dCellCyan, CYAN)}
        {area('cg', dCellGreen, GREEN)}
        {dSmallLime.map((p, i) => area(`sl${i}`, p, LIME, THIN))}
        {dSmallOra.map((p, i) => area(`so${i}`, p, ORA))}
        {area('eo', dEastOuter, LIME, THIN)}
        {area('eor', dEastOra, ORA, [[YEL, 2]])}
        {area('er', dEastRed, RED, [[DORA, 2]])}
        {area('ec', dEastCrim, CRIM)}
        {crossSeries('rx', dCentre, '#ee1c25')}
        {dLoops.map((s, i) => curve(`lo${i}`, s, '#000', 2, closedSpline))}
        {dLines.map((s, i) => curve(`l${i}`, s))}
      </Panel>

      <Colorbar left={456} top={49} height={381} domain={[-2.669, 0.965]} levels={presLevelsA} colors={presColorsA} topTip="#ffdd00" bottomTip="#440a5e" labelDx={27.5} anchor="end" decimals={1} />
      <Colorbar left={456} top={489.7} height={380.3} domain={[-7.6, 5.6]} levels={presLevelsC} colors={presColors} topTip="#ffdd00" bottomTip="#440a5e" labelDx={23.5} anchor="end" decimals={0} />
      <Colorbar left={992.5} top={49} height={380.3} domain={[-5, 52.73]} levels={reflLevels} colors={reflColors} topTip="#a8004b" labelDx={18.5} anchor="middle" decimals={0} />
      <Colorbar left={992.5} top={489.7} height={380.3} domain={[-5, 52.73]} levels={reflLevels} colors={reflColors} topTip="#a8004b" labelDx={18.5} anchor="middle" decimals={0} />

      <svg width={1064} height={913} style={{ position: 'absolute', left: 0, top: 0, pointerEvents: 'none' }}>
        <g fontFamily={'"Liberation Sans", sans-serif'} fontSize={28} fill="#000">
          <text x={22} y={31}>(a)</text>
          <text x={544} y={31}>(b)</text>
          <text x={22} y={475}>(c)</text>
          <text x={544} y={475}>(d)</text>
        </g>
        <g fontFamily={FONT} fontSize={23} fill="#222" textAnchor="middle">
          <text x={254} y={41}>Tilt = 348 km</text>
          <text x={777} y={54}>{'Mid-level Conv. Coverage =\u00a0\u00a08%'}</text>
          <text x={255} y={482}>MSLP = 1003.6 hPa</text>
          <text x={778} y={482}>{'Low-level Conv. Coverage =\u00a0\u00a09%'}</text>
        </g>
        <g fontFamily={FONT} fontSize={18} fill="#222" textAnchor="middle">
          <text transform="translate(25 240) rotate(-90)">Y (km)</text>
          <text transform="translate(25 682) rotate(-90)">Y (km)</text>
          <text x={255} y={910}>X (km)</text>
          <text x={778} y={910}>X (km)</text>
        </g>
        <g fontFamily={FONT} fontSize={16.5} fill="#222" textAnchor="middle">
          <text transform="translate(527 239) rotate(-90)">6km Pres. Anom. (mbar)</text>
          <text transform="translate(522 680) rotate(-90)">1km Pres. Anom. (mbar)</text>
          <text transform="translate(1058 239) rotate(-90)" fontSize={17}>6km reflectivity (dBZ)</text>
          <text transform="translate(1058 680) rotate(-90)" fontSize={17}>6km reflectivity (dBZ)</text>
        </g>
      </svg>
    </div>
  )
}
